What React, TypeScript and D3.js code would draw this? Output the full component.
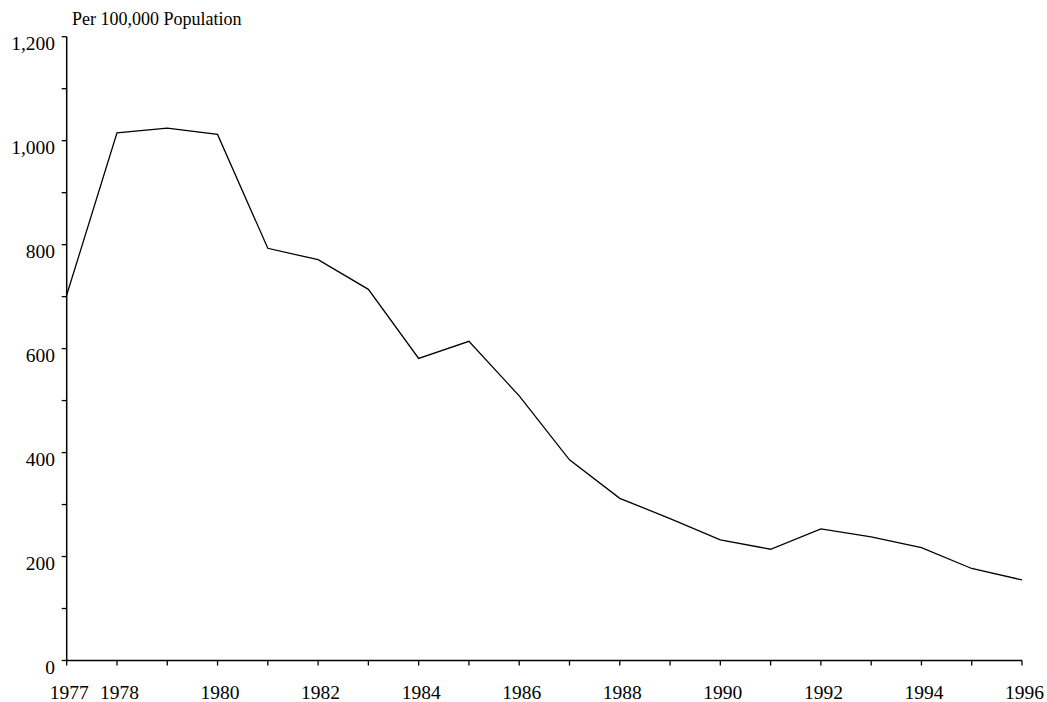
import React from "react";
import * as d3 from "d3";

const years: number[] = [1977,1978,1979,1980,1981,1982,1983,1984,1985,1986,1987,1988,1989,1990,1991,1992,1993,1994,1995,1996];
const rates: number[] = [703,1015,1024,1012,793,771,714,581,614,509,386,312,273,232,214,253,238,217,177,155];
const yMajorTicks: number[] = [0,200,400,600,800,1000,1200];
const yMinorTicks: number[] = [100,300,500,700,900,1100];
const xLabelYears: number[] = [1977,1978,1980,1982,1984,1986,1988,1990,1992,1994,1996];
const yTitle = "Per 100,000 Population";

const W = 1047, H = 702;
const left = 66.7, right = 1022, top = 36.7, bottom = 660.5;

export default function App() {
  const x = d3.scaleLinear().domain([1977, 1996]).range([left, right]);
  const y = d3.scaleLinear().domain([0, 1200]).range([bottom, top]);
  const line = d3.line<number>().x((_, i) => x(years[i])).y((d) => y(d));
  const font = "'Liberation Serif', 'Times New Roman', serif";
  return (
    <svg width={W} height={H} style={{ position: "absolute", left: 0, top: 0, background: "#fff" }} fontFamily={font}>
      <text x={72} y={25} fontSize={18} fill="#000">{yTitle}</text>
      {/* y axis */}
      <line x1={left} x2={left} y1={top} y2={bottom} stroke="#000" strokeWidth={1.5} />
      {yMajorTicks.map((t) => (
        <g key={"ym" + t}>
          <line x1={left - 5} x2={left} y1={y(t)} y2={y(t)} stroke="#000" strokeWidth={1.3} />
          <text x={55} y={y(t) + 13} fontSize={19.5} textAnchor="end" fill="#000">{d3.format(",")(t)}</text>
        </g>
      ))}
      {yMinorTicks.map((t) => (
        <line key={"yn" + t} x1={left - 5} x2={left} y1={y(t)} y2={y(t)} stroke="#000" strokeWidth={1.3} />
      ))}
      {/* x axis */}
      <line x1={left} x2={right} y1={bottom} y2={bottom} stroke="#000" strokeWidth={1.5} />
      {years.map((yr) => (
        <line key={"xt" + yr} x1={x(yr)} x2={x(yr)} y1={bottom} y2={bottom + 5} stroke="#000" strokeWidth={1.3} />
      ))}
      {xLabelYears.map((yr) => (
        <text key={"xl" + yr} x={x(yr) + 2.5} y={bottom + 38} fontSize={19.5} textAnchor="middle" fill="#000">{yr}</text>
      ))}
      <path d={line(rates) || ""} fill="none" stroke="#000" strokeWidth={1.3} strokeLinejoin="miter" />
    </svg>
  );
}
